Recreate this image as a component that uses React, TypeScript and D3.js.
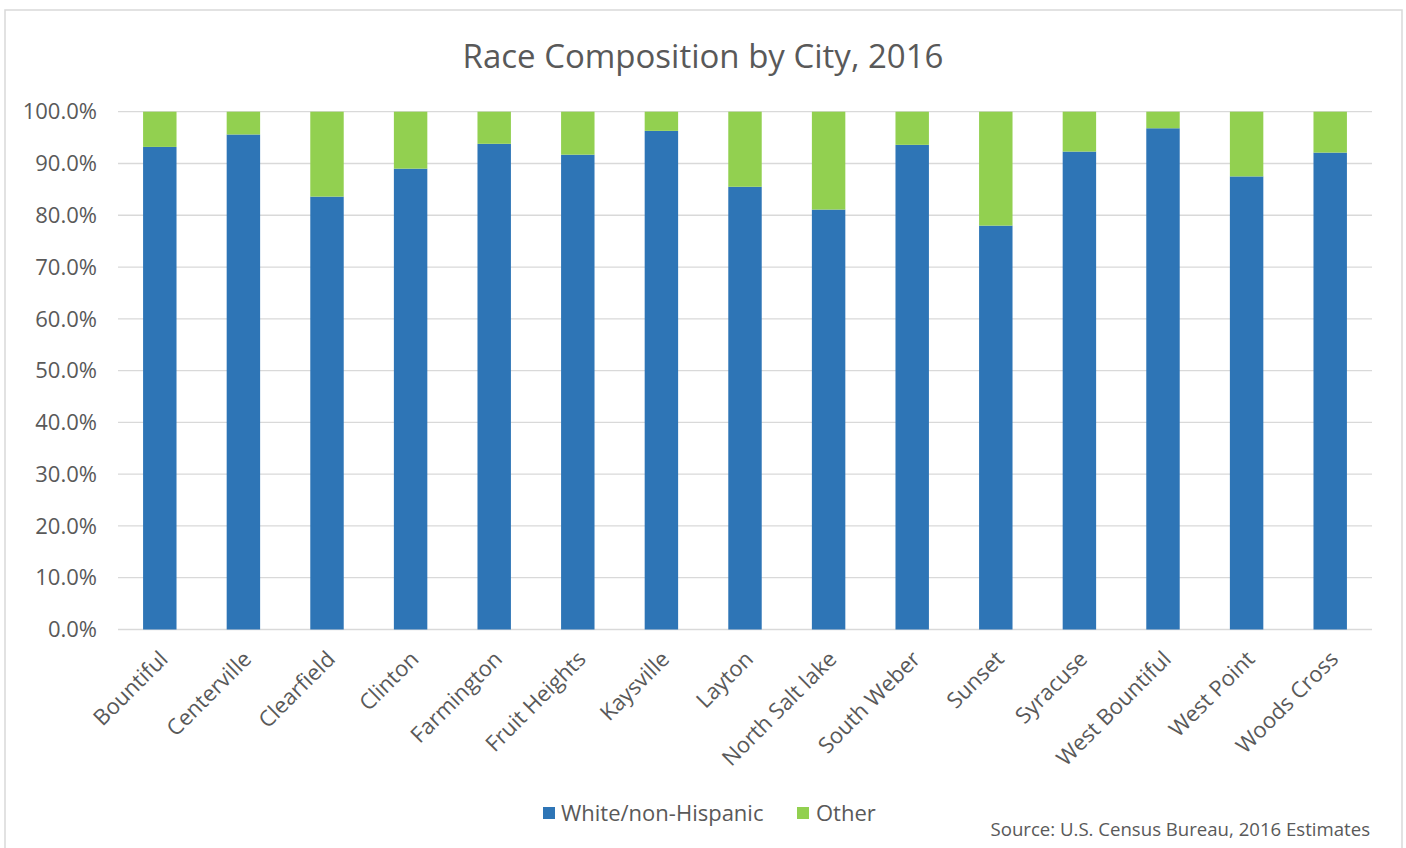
import React from "react";
import * as d3 from "d3";

const cities = [
  "Bountiful", "Centerville", "Clearfield", "Clinton", "Farmington", "Fruit Heights",
  "Kaysville", "Layton", "North Salt lake", "South Weber", "Sunset", "Syracuse",
  "West Bountiful", "West Point", "Woods Cross",
];
const white = [93.2, 95.6, 83.6, 89.0, 93.8, 91.7, 96.3, 85.5, 81.1, 93.6, 78.0, 92.3, 96.8, 87.5, 92.1];
const other = white.map((w) => +(100 - w).toFixed(1));
const yTicks = [0, 10, 20, 30, 40, 50, 60, 70, 80, 90, 100];
const seriesNames = ["White/non-Hispanic", "Other"];
const colors = ["#2E75B6", "#92D050"];

const W = 1406, H = 848;
const plot = { left: 118, right: 1372, top: 111.7, bottom: 629.5 };
const FONT = "'Open Sans', sans-serif";
const TXT = "#595959";

export default function App() {
  const x = d3.scaleBand().domain(cities).range([plot.left, plot.right]).paddingInner(0.6).paddingOuter(0.3);
  const y = d3.scaleLinear().domain([0, 100]).range([plot.bottom, plot.top]);
  const rows = cities.map((c, i) => ({ city: c, white: white[i], other: other[i] }));
  const stack = d3.stack<any>().keys(["white", "other"])(rows);
  const bw = x.bandwidth();

  return (
    <svg width={W} height={H} style={{ position: "absolute", left: 0, top: 0, background: "#fff" }} fontFamily={FONT}>
      <rect x={5} y={10} width={1397} height={850} fill="#fff" stroke="#D9D9D9" strokeWidth={1.5} />
      <text x={703} y={68} textAnchor="middle" fontSize={33} fill={TXT}>Race Composition by City, 2016</text>
      {yTicks.map((t) => (
        <g key={t}>
          <line x1={plot.left} x2={plot.right} y1={y(t)} y2={y(t)} stroke="#D9D9D9" strokeWidth={1.3} />
          <text x={97} y={y(t)} dy="0.35em" textAnchor="end" fontSize={22} fill={TXT}>{t.toFixed(1)}%</text>
        </g>
      ))}
      {stack.map((s, si) => (
        <g key={si}>
          {s.map((d, i) => (
            <rect key={i} x={x(cities[i])} width={bw} y={y(d[1])} height={y(d[0]) - y(d[1])} fill={colors[si]} />
          ))}
        </g>
      ))}
      {cities.map((c) => {
        const cx = (x(c) as number) + bw / 2;
        return (
          <text key={c} transform={`translate(${cx + 4},${655}) rotate(-45)`} textAnchor="end" dy="0.35em" fontSize={22} fill={TXT}>{c}</text>
        );
      })}
      <g>
        <rect x={543} y={807} width={12} height={12} fill={colors[0]} />
        <text x={561} y={813} dy="0.35em" fontSize={22} fill={TXT}>{seriesNames[0]}</text>
        <rect x={797} y={807} width={12} height={12} fill={colors[1]} />
        <text x={816} y={813} dy="0.35em" fontSize={22} fill={TXT}>{seriesNames[1]}</text>
      </g>
      <text x={1370} y={836} textAnchor="end" fontSize={18.6} fill={TXT}>Source: U.S. Census Bureau, 2016 Estimates</text>
    </svg>
  );
}
